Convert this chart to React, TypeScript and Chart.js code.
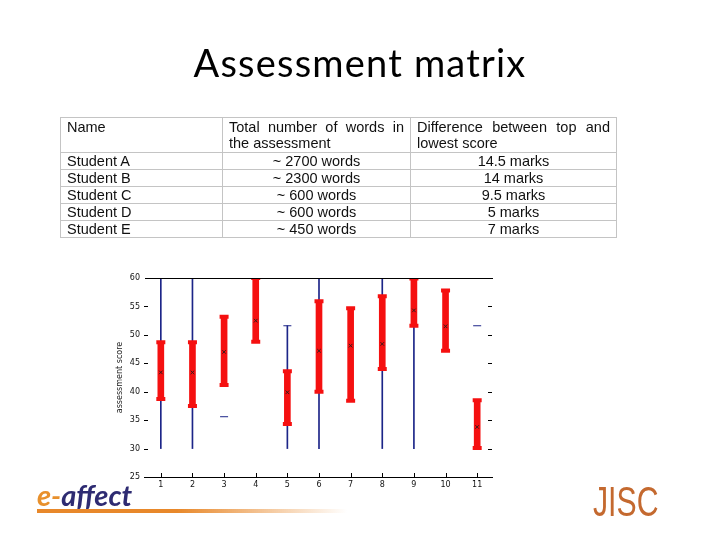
import React, { useEffect, useRef } from 'react';
import { Chart, registerables } from 'chart.js';

Chart.register(...registerables);

// ---- Chart data ----
const xLabels = ['1', '2', '3', '4', '5', '6', '7', '8', '9', '10', '11'];
const yTickLabels = [25, 30, 35, 40, 45, 50, 55, 60];
const blueLow: (number | null)[] = [30, 30, null, null, 30, 30, null, 30, 30, null, null];
const blueHigh: (number | null)[] = [60, 60, null, null, 51.6, 60, null, 60, 60, null, null];
const redLow: number[] = [38.7, 37.5, 41.2, 48.8, 34.3, 40.0, 38.4, 44.0, 51.6, 47.2, 30.1];
const redHigh: number[] = [48.7, 48.7, 53.2, 60.0, 43.6, 55.9, 54.7, 56.8, 59.9, 57.8, 38.5];
const means: number[] = [43.4, 43.4, 47.0, 52.5, 39.9, 47.2, 48.1, 48.4, 54.3, 51.5, 33.8];
const blueDashes: (number | null)[] = [null, null, 35.6, null, 51.6, null, null, null, null, null, 51.6];

// ---- Table data ----
const tableHeader = ['Name', 'Total  number of words in the assessment', 'Difference  between  top  and lowest score'];
const students = ['Student A', 'Student B', 'Student C', 'Student D', 'Student E'];
const wordCounts = ['~ 2700 words', '~ 2300 words', '~ 600 words', '~ 600 words', '~ 450 words'];
const markDiffs = ['14.5 marks', '14 marks', '9.5 marks', '5 marks', '7 marks'];

const RED = '#f51010';
const BLUE = '#1c2588';

const framePlugin = {
  id: 'frame',
  afterDraw(chart: any) {
    const { ctx, chartArea: a, scales } = chart;
    const x = scales.x;
    const y = scales.y;
    ctx.save();
    ctx.strokeStyle = '#000';
    ctx.lineWidth = 1;
    ctx.beginPath();
    const top = Math.round(a.top) + 0.5;
    const bot = Math.round(a.bottom) + 0.5;
    ctx.moveTo(a.left, top);
    ctx.lineTo(a.right, top);
    ctx.moveTo(a.left, bot);
    ctx.lineTo(a.right, bot);
    y.ticks.forEach((t: any) => {
      const py = Math.round(y.getPixelForValue(t.value)) + 0.5;
      if (t.value === 60) return;
      ctx.moveTo(a.left - 1, py);
      ctx.lineTo(a.left + 3, py);
      if (t.value !== 25) {
        ctx.moveTo(a.right - 5, py);
        ctx.lineTo(a.right - 1, py);
      }
    });
    xLabels.forEach((_l, i) => {
      const px = Math.round(x.getPixelForValue(i)) + 0.5;
      ctx.moveTo(px, a.bottom);
      ctx.lineTo(px, a.bottom - 4);
    });
    ctx.stroke();
    ctx.restore();
  },
};

function ErrorChart() {
  const ref = useRef<HTMLCanvasElement | null>(null);
  useEffect(() => {
    if (!ref.current) return;
    const blueRanges = blueLow.map((lo, i) => (lo === null || blueHigh[i] === null ? null : [lo, blueHigh[i]]));
    const redRanges = redLow.map((lo, i) => [lo, redHigh[i]]);
    const chart = new Chart(ref.current, {
      type: 'bar',
      data: {
        labels: xLabels,
        datasets: [
          {
            type: 'bar',
            label: 'range',
            data: blueRanges as any,
            backgroundColor: BLUE,
            barThickness: 1,
            grouped: false,
            order: 5,
          } as any,
          {
            type: 'bar',
            label: 'spread',
            data: redRanges as any,
            backgroundColor: RED,
            barThickness: 6,
            grouped: false,
            order: 4,
          } as any,
          {
            type: 'line',
            label: 'low cap',
            data: redLow,
            showLine: false,
            pointStyle: 'line',
            pointRadius: 4.5,
            borderColor: RED,
            pointBorderWidth: 4,
            order: 3,
          } as any,
          {
            type: 'line',
            label: 'high cap',
            data: redHigh,
            showLine: false,
            pointStyle: 'line',
            pointRadius: 4.5,
            borderColor: RED,
            pointBorderWidth: 4,
            order: 3,
          } as any,
          {
            type: 'line',
            label: 'dash',
            data: blueDashes,
            showLine: false,
            pointStyle: 'line',
            pointRadius: 4,
            borderColor: BLUE,
            pointBorderWidth: 1,
            order: 2,
          } as any,
          {
            type: 'line',
            label: 'mean',
            data: means,
            showLine: false,
            pointStyle: 'crossRot',
            pointRadius: 2.5,
            borderColor: '#3a1a1a',
            pointBorderWidth: 1,
            order: 1,
          } as any,
        ],
      },
      options: {
        responsive: false,
        animation: false,
        events: [],
        layout: { padding: { left: 115, top: 278, right: 227, bottom: 43 } },
        plugins: { legend: { display: false }, tooltip: { enabled: false } },
        scales: {
          x: {
            type: 'category',
            offset: true,
            grid: { display: false, drawTicks: false },
            border: { display: false },
            ticks: { color: '#111', font: { family: 'DejaVu Sans', size: 8 }, padding: 3, maxRotation: 0 },
            afterFit: (s: any) => { s.height = 20; },
          },
          y: {
            type: 'linear',
            min: yTickLabels[0],
            max: yTickLabels[yTickLabels.length - 1],
            grid: { display: false, drawTicks: false },
            border: { display: false },
            ticks: { stepSize: 5, color: '#111', font: { family: 'DejaVu Sans', size: 8 }, padding: 5 },
            title: {
              display: true,
              text: 'assessment score',
              color: '#222',
              font: { family: 'DejaVu Sans', size: 8 },
              padding: { top: 0, bottom: 0 },
            },
            afterFit: (s: any) => { s.width = 30; },
          },
        },
      },
      plugins: [framePlugin],
    });
    return () => chart.destroy();
  }, []);
  return <canvas ref={ref} width={720} height={540} style={{ position: 'absolute', left: 0, top: 0 }} />;
}

const cellBase: React.CSSProperties = {
  border: '1px solid #c4c4c4',
  padding: '0 6px',
  fontFamily: '"Liberation Sans", Arial, sans-serif',
  fontSize: 14.5,
  lineHeight: '16px',
  color: '#111',
  verticalAlign: 'top',
};

export default function App() {
  return (
    <div style={{ position: 'absolute', left: 0, top: 0, width: 720, height: 540, background: '#fff', overflow: 'hidden' }}>
      <ErrorChart />
      <div
        style={{
          position: 'absolute',
          left: 0,
          top: 37,
          width: 720,
          textAlign: 'center',
          fontFamily: 'Lato, "Open Sans", sans-serif',
          fontSize: 38,
          lineHeight: '50px',
          letterSpacing: 1.2,
          color: '#000',
        }}
      >
        Assessment matrix
      </div>
      <table
        style={{
          position: 'absolute',
          left: 60,
          top: 117,
          width: 556,
          borderCollapse: 'collapse',
          tableLayout: 'fixed',
        }}
      >
        <colgroup>
          <col style={{ width: 162 }} />
          <col style={{ width: 188 }} />
          <col style={{ width: 206 }} />
        </colgroup>
        <tbody>
          <tr style={{ height: 35 }}>
            {tableHeader.map((h, i) => (
              <td key={i} style={{ ...cellBase, textAlign: i === 0 ? 'left' : 'justify', paddingTop: 1 }}>
                {h}
              </td>
            ))}
          </tr>
          {students.map((s, i) => (
            <tr key={s} style={{ height: 17 }}>
              <td style={{ ...cellBase, textAlign: 'left' }}>{s}</td>
              <td style={{ ...cellBase, textAlign: 'center' }}>{wordCounts[i]}</td>
              <td style={{ ...cellBase, textAlign: 'center' }}>{markDiffs[i]}</td>
            </tr>
          ))}
        </tbody>
      </table>
      <div
        style={{
          position: 'absolute',
          left: 37,
          top: 478,
          fontFamily: 'Lato, sans-serif',
          fontStyle: 'italic',
          fontWeight: 700,
          fontSize: 29,
          lineHeight: '34px',
        }}
      >
        <span style={{ color: '#e8902c' }}>e-</span>
        <span style={{ color: '#2e2b72' }}>affect</span>
      </div>
      <div
        style={{
          position: 'absolute',
          left: 37,
          top: 509,
          width: 310,
          height: 4,
          background: 'linear-gradient(to right, #e8882a 0%, #e8882a 45%, rgba(232,136,42,0) 100%)',
        }}
      />
      <div
        style={{
          position: 'absolute',
          left: 593,
          top: 478,
          fontFamily: '"Liberation Sans", sans-serif',
          fontSize: 42,
          lineHeight: '48px',
          color: '#c4692f',
          transform: 'scaleX(0.72)',
          transformOrigin: 'left top',
        }}
      >
        JISC
      </div>
    </div>
  );
}
